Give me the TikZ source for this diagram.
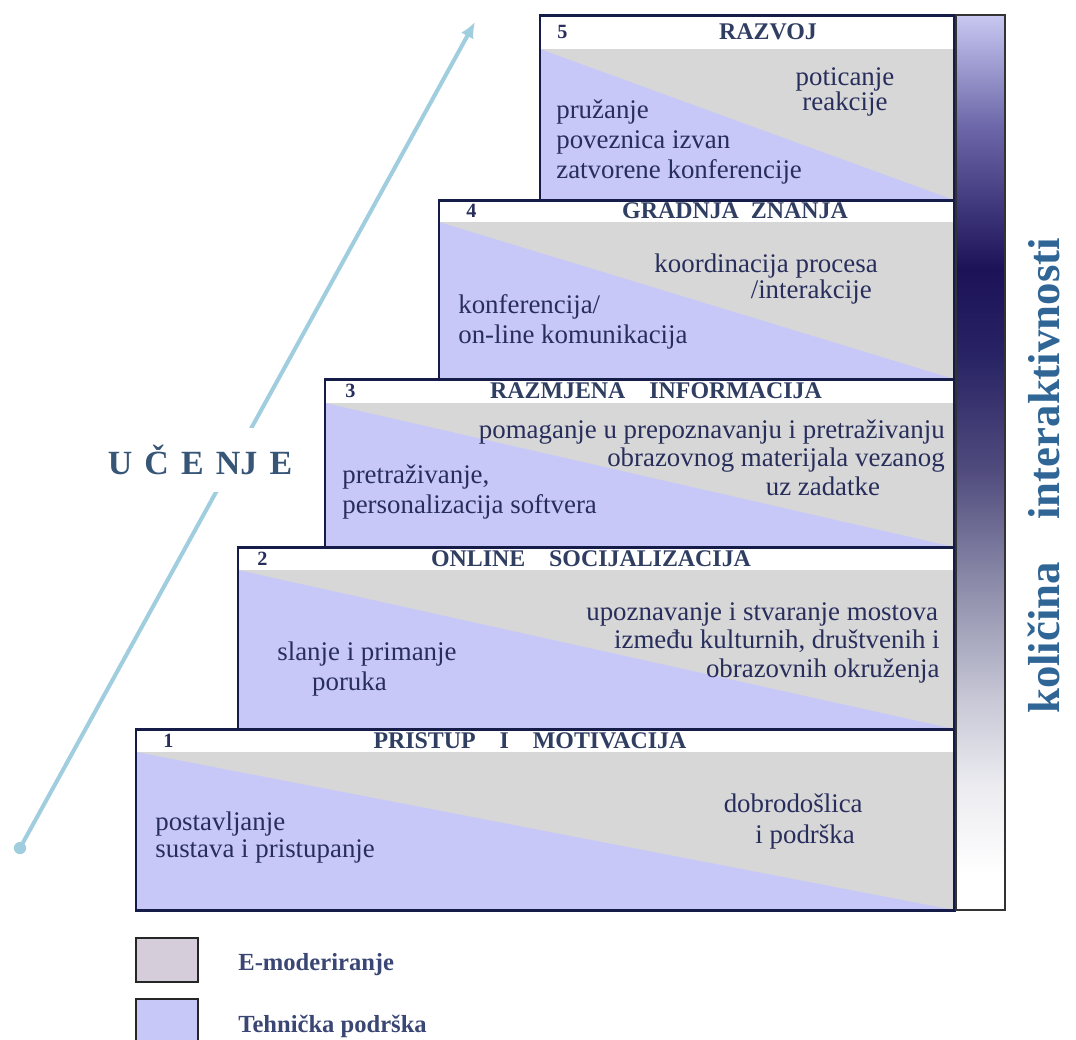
\documentclass[tikz,border=0pt]{standalone}
\usepackage{fontspec}
\setmainfont{Liberation Serif}
\usetikzlibrary{arrows.meta}

\definecolor{emodgray}{RGB}{215,215,215}
\definecolor{tehnblue}{RGB}{200,200,248}
\definecolor{framenavy}{RGB}{22,28,72}
\definecolor{textnavy}{RGB}{40,46,92}
\definecolor{titleslate}{RGB}{48,62,98}
\definecolor{arrowblue}{RGB}{160,206,222}
\definecolor{ucenjeblue}{RGB}{55,85,118}
\definecolor{interblue}{RGB}{48,102,150}
\definecolor{legendmauve}{RGB}{214,205,218}
\definecolor{legendtext}{RGB}{58,70,115}
% colours of the interactivity bar, bottom to top
\definecolor{ikpale}{RGB}{235,235,240}
\definecolor{iklight}{RGB}{200,200,215}
\definecolor{ikgray}{RGB}{140,140,170}
\definecolor{ikmid}{RGB}{80,75,125}
\definecolor{ikdeep}{RGB}{40,35,100}
\definecolor{iknavy}{RGB}{28,18,88}
\definecolor{ikviolet}{RGB}{110,105,170}
\definecolor{iktop}{RGB}{200,200,242}
\pgfdeclareverticalshading{interakt}{100bp}{color(0bp)=(white); color(27bp)=(white);
  color(32bp)=(ikpale); color(36.7bp)=(iklight); color(43.2bp)=(ikgray);
  color(49.6bp)=(ikmid); color(56bp)=(ikdeep); color(60.8bp)=(iknavy);
  color(68.9bp)=(ikviolet); color(75bp)=(iktop); color(100bp)=(iktop)}

\begin{document}
\begin{tikzpicture}[x=0.02cm, y=-0.02cm]
  \tikzset{
    stepframe/.style={draw=framenavy, line width=1.7pt},
    stepnum/.style={anchor=west, inner sep=0pt, font=\fontsize{11.5}{13}\selectfont\bfseries, text=textnavy},
    steptitle/.style={inner sep=0pt, font=\fontsize{13.6}{16}\selectfont\bfseries, text=titleslate},
    bodytext/.style={inner sep=0pt, text=textnavy, font=\fontsize{15.3}{#1}\selectfont},
    bodytext/.default=17,
    learnarrow/.style={draw=arrowblue, line width=2.3pt, -{Latex[length=9pt,width=8pt]}},
    learndot/.style={circle, fill=arrowblue, inner sep=0pt, minimum size=7pt},
    ucenje/.style={fill=white, inner xsep=2pt, minimum height=36pt, text=ucenjeblue,
      font=\fontsize{19.3}{23}\selectfont\bfseries},
    interlabel/.style={rotate=90, inner sep=0pt, text=interblue, font=\fontsize{25.5}{30}\selectfont\bfseries},
    legendbox/.style={draw=black!85, line width=1.1pt},
    legendlabel/.style={anchor=base west, inner sep=0pt, text=legendtext, font=\fontsize{14}{17}\selectfont\bfseries}
  }
  \useasboundingbox (0,0) rectangle (1076,1039);
  \clip (0,0) rectangle (1076,1039);

  % learning arrow
  \node[learndot] (learnStart) at (20,848) {};
  \coordinate (learnTip) at (475,22);
  \draw[learnarrow] (learnStart.center) -- (learnTip);
  \node[ucenje] (ucenje) at (200,460) {{\spaceskip=0.36em U Č E NJ E}};

  % the five steps
  \foreach \l/\t/\h/\b/\n/\nx/\tx/\title in {
      540/15/49/200/5/557/768/RAZVOJ,
      439/200/222/379/4/466/735/GRADNJA~~ZNANJA,
      325/379/403/547/3/345/656/RAZMJENA~~~~INFORMACIJA,
      238/547/570/729/2/257/591/ONLINE~~~~SOCIJALIZACIJA,
      136/729/752/910/1/163/530/PRISTUP~~~~I~~~~MOTIVACIJA}
  {
    \fill[emodgray] (\l,\t) rectangle (954,\b);
    \fill[tehnblue] (\l,\h) -- (954,\b) -- (\l,\b) -- cycle;
    \fill[white] (\l,\t) rectangle (954,\h);
    \draw[stepframe] (\l,\t) rectangle (954,\b);
    \node[stepnum] (num\n) at (\nx,{(\t+\h)/2}) {\n};
    \node[steptitle] (title\n) at (\tx,{(\t+\h)/2}) {\title};
  }

  % step 5
  \node[bodytext, anchor=west, align=left] (tehn5) at (556,142)
    {pružanje\\poveznica izvan\\zatvorene konferencije};
  \node[bodytext=14.2, align=center] (emod5) at (845,91.5) {poticanje\\reakcije};
  % step 4
  \node[bodytext, anchor=west, align=left] (tehn4) at (458,322)
    {konferencija/\\on-line komunikacija};
  \node[bodytext=13.6, anchor=east, align=right] (emod4) at (878,279)
    {koordinacija procesa\\/interakcije\hspace*{3.4pt}};
  % step 3
  \node[bodytext, anchor=west, align=left] (tehn3) at (342,492)
    {pretraživanje,\\personalizacija softvera};
  \node[bodytext=16.2, anchor=east, align=right] (emod3) at (945,457.5)
    {pomaganje u prepoznavanju i pretraživanju\\obrazovnog materijala vezanog\hspace*{2.3pt}\\uz zadatke\hspace*{36.8pt}};
  % step 2
  \node[bodytext, anchor=west, align=left] (tehn2) at (277,669)
    {slanje i primanje\\\hspace*{19.8pt}poruka};
  \node[bodytext=16.2, anchor=east, align=right] (emod2) at (940,642.5)
    {upoznavanje i stvaranje mostova\hspace*{1pt}\\između kulturnih, društvenih i\hspace*{12.5pt}\\obrazovnih okruženja};
  % step 1
  \node[bodytext=15.3, anchor=west, align=left] (tehn1) at (155,837.5)
    {postavljanje\\sustava i pristupanje};
  \node[bodytext=17.6, anchor=east, align=right] (emod1) at (863,821.5)
    {dobrodošlica\\i podrška\hspace*{4.5pt}};

  % interactivity bar
  \shade[shading=interakt] (956,15) rectangle (1005,910);
  \draw[draw=black!80, line width=1.1pt] (956,15) rectangle (1005,910);
  \node[interlabel] (kolicina) at (1044,476) {{\spaceskip=0.95em količina interaktivnosti}};

  % legend
  \draw[legendbox, fill=legendmauve] (136,938) rectangle (198,982);
  \draw[legendbox, fill=tehnblue] (136,999) rectangle (198,1050);
  \node[legendlabel] (legEmod) at (238,970) {E-moderiranje};
  \node[legendlabel] (legTehn) at (238,1032) {Tehnička podrška};
\end{tikzpicture}
\end{document}
